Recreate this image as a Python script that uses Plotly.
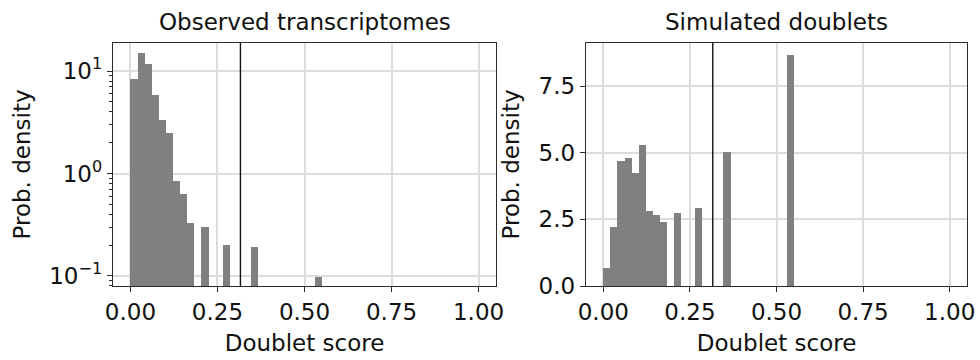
import numpy as np
import plotly.graph_objects as go

# Histogram bin edges (49 equal bins on [0, 1])
bin_edges = np.linspace(0, 1, 50)

# Observed transcriptomes: non-empty bins and their probability density
obs_bins = [0, 1, 2, 3, 4, 5, 6, 7, 8, 10, 13, 17, 26]
obs_density = [8.3, 14.9, 11.7, 5.8, 3.3, 2.5, 0.84, 0.63, 0.33, 0.30, 0.20, 0.19, 0.098]

# Simulated doublets: non-empty bins and their probability density
sim_bins = [0, 1, 2, 3, 4, 5, 6, 7, 8, 10, 13, 17, 26]
sim_density = [0.66, 2.22, 4.68, 4.81, 4.24, 5.27, 2.81, 2.66, 2.40, 2.72, 2.91, 5.03, 8.68]

threshold = 0.316

x_ticks = [0.0, 0.25, 0.5, 0.75, 1.0]
obs_y_ticks = [0.1, 1, 10]
obs_y_ticktext = ["10<sup>−1</sup>", "10<sup>0</sup>", "10<sup>1</sup>"]
obs_y_minor = [0.08, 0.09] + [m * 0.1 for m in range(2, 10)] + list(range(2, 10))
sim_y_ticks = [0.0, 2.5, 5.0, 7.5]

titles = ["Observed transcriptomes", "Simulated doublets"]
x_title = "Doublet score"
y_title = "Prob. density"

FONT = "DejaVu Sans"
BAR_COLOR = "#808080"
FRAME = "#2b2b2b"
GRID = "#dcdcdc"

width = bin_edges[1] - bin_edges[0]
centers = (bin_edges[:-1] + bin_edges[1:]) / 2

fig = go.Figure()
fig.add_trace(go.Bar(
    x=centers[obs_bins], y=obs_density, width=width,
    marker=dict(color=BAR_COLOR, line=dict(width=0)),
    xaxis="x", yaxis="y", showlegend=False,
))
fig.add_trace(go.Bar(
    x=centers[sim_bins], y=sim_density, width=width,
    marker=dict(color=BAR_COLOR, line=dict(width=0)),
    xaxis="x2", yaxis="y2", showlegend=False,
))

# Threshold lines spanning each panel's full height
for xr, yr in (("x", "y domain"), ("x2", "y2 domain")):
    fig.add_shape(type="line", xref=xr, yref=yr, x0=threshold, x1=threshold,
                  y0=0, y1=1, line=dict(color="#111", width=1.4), layer="above")

W, H = 980, 360
y_dom = [1 - 286 / H, 1 - 43 / H]

common_x = dict(
    range=[-0.05, 1.05], tickvals=x_ticks, tickformat=".2f",
    ticks="outside", ticklen=5, tickwidth=1.2, tickcolor=FRAME,
    showline=True, linecolor=FRAME, linewidth=1.4, mirror=True,
    showgrid=True, gridcolor=GRID, gridwidth=1.5, zeroline=False,
    tickfont=dict(size=23, color="#111"), automargin=False,
    title=dict(text=x_title, font=dict(size=23, color="#111"), standoff=11),
)
common_y = dict(
    ticks="outside", ticklen=5, tickwidth=1.2, tickcolor=FRAME,
    showline=True, linecolor=FRAME, linewidth=1.4, mirror=True,
    showgrid=True, gridcolor=GRID, gridwidth=1.5, zeroline=False,
    tickfont=dict(size=23, color="#111"), automargin=False,
    title=dict(text=y_title, font=dict(size=23, color="#111"), standoff=12),
    domain=y_dom,
)

fig.update_layout(
    width=W, height=H,
    margin=dict(l=0, r=0, t=0, b=0, autoexpand=False),
    paper_bgcolor="white", plot_bgcolor="white",
    font=dict(family=FONT, color="#111"),
    bargap=0,
    xaxis=dict(domain=[113 / W, 496 / W], anchor="y", **common_x),
    xaxis2=dict(domain=[586 / W, 967 / W], anchor="y2", **common_x),
    yaxis=dict(anchor="x", type="log", range=[np.log10(0.0798), np.log10(18.8)],
               tickvals=obs_y_ticks, ticktext=obs_y_ticktext,
               minor=dict(tickvals=obs_y_minor, ticks="outside", ticklen=3,
                          tickwidth=1, tickcolor=FRAME, showgrid=False),
               **common_y),
    yaxis2=dict(anchor="x2", range=[0, max(sim_density) * 1.05],
                tickvals=sim_y_ticks, tickformat=".1f", **common_y),
    annotations=[
        dict(text=titles[0], x=(113 + 496) / 2 / W, y=1 - 22 / H, xref="paper", yref="paper",
             showarrow=False, font=dict(size=23, color="#111"), xanchor="center", yanchor="middle"),
        dict(text=titles[1], x=(586 + 967) / 2 / W, y=1 - 22 / H, xref="paper", yref="paper",
             showarrow=False, font=dict(size=23, color="#111"), xanchor="center", yanchor="middle"),
    ],
)

fig.write_html("out.html")
